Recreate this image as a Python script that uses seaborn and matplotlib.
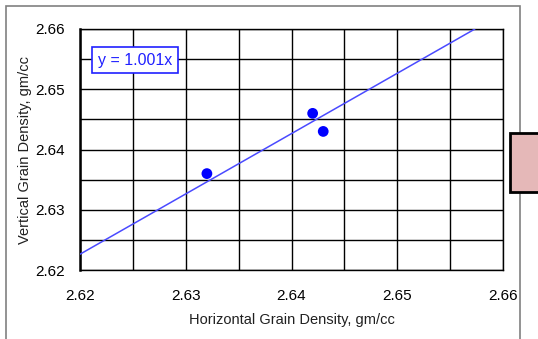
import matplotlib
matplotlib.use("Agg")
import matplotlib.pyplot as plt
import seaborn as sns
import numpy as np
import pandas as pd
from matplotlib.patches import Rectangle

# Data
horizontal = [2.632, 2.642, 2.643]
vertical = [2.636, 2.646, 2.643]
slope = 1.001
x_ticks = [2.62, 2.63, 2.64, 2.65, 2.66]
y_ticks = [2.62, 2.63, 2.64, 2.65, 2.66]
equation_label = "y = 1.001x"
x_label = "Horizontal Grain Density, gm/cc"
y_label = "Vertical Grain Density, gm/cc"

sns.set_theme(style="white")
plt.rcParams['font.family'] = ['Liberation Sans', 'DejaVu Sans']

W, H = 538, 339
fig = plt.figure(figsize=(W / 100, H / 100), dpi=100)
fig.patch.set_facecolor("white")

# Outer chart frame
fig.patches.append(Rectangle((6 / W, -0.1), (520 - 6) / W, 1.1 - 6 / H,
                             transform=fig.transFigure, facecolor="none",
                             edgecolor="#808080", lw=1.2, zorder=0))

ax = fig.add_axes([80 / W, 1 - 270 / H, (503 - 80) / W, (270 - 29) / H])
ax.set_facecolor("white")

df = pd.DataFrame({"h": horizontal, "v": vertical})
line_x = np.array([x_ticks[0], y_ticks[-1] / slope])
line_df = pd.DataFrame({"x": line_x, "y": slope * line_x})

sns.lineplot(data=line_df, x="x", y="y", ax=ax, color="#4a4aff", lw=1.1, zorder=3)
sns.scatterplot(data=df, x="h", y="v", ax=ax, color="#0000ff", s=60,
                edgecolor="none", zorder=4)

ax.set_xlim(x_ticks[0], x_ticks[-1])
ax.set_ylim(y_ticks[0], y_ticks[-1])
ax.set_xticks(x_ticks)
ax.set_yticks(y_ticks)
ax.set_xticklabels([f"{t:.2f}" for t in x_ticks])
ax.set_yticklabels([f"{t:.2f}" for t in y_ticks])
minor = np.arange(0, 9) * 0.005 + 2.62
ax.set_xticks(minor, minor=True)
ax.set_yticks(minor, minor=True)
ax.grid(True, which="both", color="black", lw=1.0)
ax.set_axisbelow(True)
ax.tick_params(axis="both", which="both", length=0, labelsize=11, colors="black")
ax.tick_params(axis="x", pad=14)
ax.tick_params(axis="y", pad=11)
for s in ax.spines.values():
    s.set_color("black")
    s.set_linewidth(1.0)
ax.spines["left"].set_linewidth(1.8)

ax.set_xlabel(x_label, fontsize=10.5, color="#202020", labelpad=7)
ax.set_ylabel(y_label, fontsize=10.5, color="#202020", labelpad=2)

ax.text((98 - 80) / (503 - 80), 1 - (60 - 29) / (270 - 29), equation_label,
        transform=ax.transAxes, color="#2020ff", fontsize=11.5, va="center", ha="left",
        bbox=dict(boxstyle="square,pad=0.35", facecolor="white", edgecolor="#2020ff", lw=1.2),
        zorder=5)

# Partially visible legend box at right edge
fig.patches.append(Rectangle((510 / W, 1 - 192 / H), 40 / W, (192 - 133) / H,
                             transform=fig.transFigure, facecolor="#e5b8b8",
                             edgecolor="black", lw=2, zorder=5))

fig.savefig("out.png", dpi=100)
